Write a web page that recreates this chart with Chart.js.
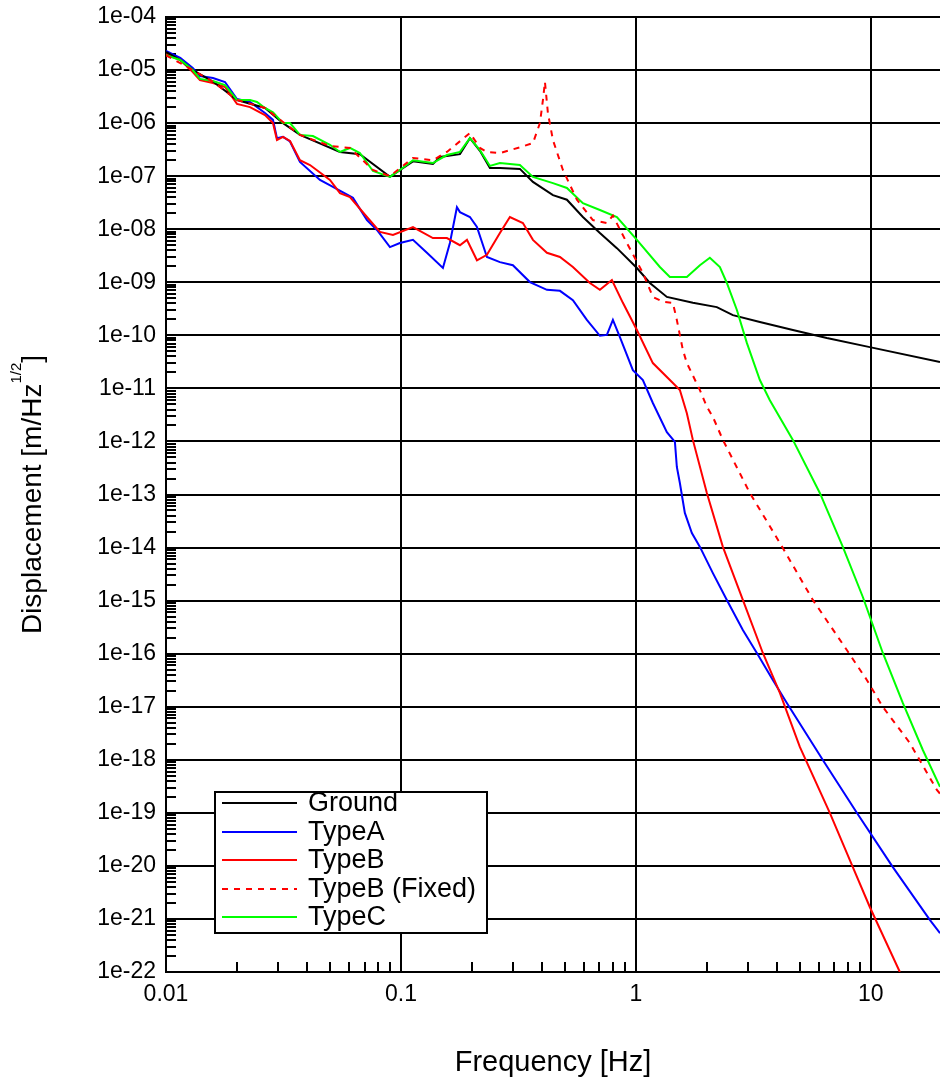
<!DOCTYPE html>
<html>
<head>
<meta charset="utf-8">
<script src="https://cdn.jsdelivr.net/npm/chart.js@4.4.1/dist/chart.umd.min.js"></script>
<style>
  html, body { margin: 0; padding: 0; background: #fff; }
  #wrap { width: 940px; height: 1081px; position: relative; }
</style>
</head>
<body>
<div id="wrap"><canvas id="psdChart"></canvas></div>
<script>
// axis ticks
const xTicks = [0.01, 0.1, 1, 10];
const xTickLabels = ['0.01', '0.1', '1', '10'];
const yTicks = [1e-22, 1e-21, 1e-20, 1e-19, 1e-18, 1e-17, 1e-16, 1e-15, 1e-14, 1e-13,
                1e-12, 1e-11, 1e-10, 1e-9, 1e-8, 1e-7, 1e-6, 1e-5, 1e-4];
const yTickLabels = ['1e-22', '1e-21', '1e-20', '1e-19', '1e-18', '1e-17', '1e-16', '1e-15', '1e-14', '1e-13',
                     '1e-12', '1e-11', '1e-10', '1e-09', '1e-08', '1e-07', '1e-06', '1e-05', '1e-04'];

// Ground
const groundF = [0.01, 0.0115, 0.013, 0.0159, 0.0201, 0.0264, 0.0315, 0.0372, 0.055, 0.0669, 0.0898,
                 0.1125, 0.1368, 0.1466, 0.1783, 0.1966, 0.2169, 0.2392, 0.2638, 0.3209, 0.3646, 0.4436,
                 0.5086, 0.5949, 0.7028, 0.8303, 1.01, 1.147, 1.355, 1.748, 2.211, 2.587, 3.371, 4.658,
                 6.498, 9.9, 19.7];
const groundV = [2.2e-5, 1.55e-5, 1.0e-5, 6.0e-6, 2.73e-6, 1.93e-6, 1.0e-6, 6.0e-7, 2.86e-7, 2.6e-7, 9.7e-8,
                 1.9e-7, 1.7e-7, 2.3e-7, 2.6e-7, 5.2e-7, 3.0e-7, 1.43e-7, 1.43e-7, 1.37e-7, 7.8e-8, 4.4e-8,
                 3.6e-8, 1.7e-8, 8.5e-9, 4.4e-9, 1.86e-9, 9.7e-10, 5.3e-10, 4.1e-10, 3.4e-10, 2.4e-10, 1.79e-10, 1.26e-10,
                 8.9e-11, 6.0e-11, 3.15e-11];

// TypeA
const typeAF = [0.01, 0.0115, 0.013, 0.01395, 0.01585, 0.01783, 0.02005, 0.02278, 0.02638, 0.02853, 0.02967,
                0.03147, 0.03371, 0.03717, 0.04522, 0.05135, 0.06248, 0.07167, 0.07904, 0.08978, 0.099,
                0.1125, 0.129, 0.1509, 0.1616, 0.1731, 0.1783, 0.1966, 0.2106, 0.2323, 0.2638, 0.2996,
                0.3539, 0.4182, 0.4751, 0.5395, 0.6185, 0.7028, 0.7527, 0.7984, 0.8551, 0.971, 1.071,
                1.181, 1.355, 1.466, 1.494, 1.539, 1.616, 1.731, 1.873, 2.127, 2.439, 2.853, 3.273,
                3.828, 4.391, 6.248, 8.718, 12.41, 17.83, 19.7];
const typeAV = [2.3e-5, 1.69e-5, 1.09e-5, 7.7e-6, 7.1e-6, 5.96e-6, 2.85e-6, 2.5e-6, 1.55e-6, 1.15e-6, 5.2e-7,
                5.5e-7, 4.5e-7, 1.85e-7, 8.5e-8, 6.3e-8, 3.9e-8, 1.49e-8, 9.7e-9, 4.6e-9, 5.5e-9,
                6.3e-9, 3.6e-9, 1.86e-9, 5.5e-9, 2.6e-8, 2.1e-8, 1.7e-8, 1.1e-8, 3.0e-9, 2.4e-9, 2.1e-9,
                1.01e-9, 7.2e-10, 6.9e-10, 4.6e-10, 1.95e-10, 9.8e-11, 1.02e-10, 1.95e-10, 9.3e-11, 2.2e-11, 1.44e-11,
                5.3e-12, 1.5e-12, 9.8e-13, 3.3e-13, 1.65e-13, 4.5e-14, 1.88e-14, 1.03e-14, 3.3e-15, 1.03e-15, 2.8e-16, 1.03e-16,
                3.2e-17, 1.18e-17, 9.9e-19, 1.0e-19, 9.5e-21, 9.6e-22, 5.4e-22];

// TypeB
const typeBF = [0.01, 0.0115, 0.013, 0.01395, 0.01585, 0.01783, 0.02005, 0.02278, 0.02638, 0.02853, 0.02967,
                0.03147, 0.03371, 0.03717, 0.04101, 0.04987, 0.05501, 0.06067, 0.07167, 0.0814, 0.09247,
                0.1125, 0.1368, 0.1569, 0.1783, 0.191, 0.2106, 0.2323, 0.2638, 0.2909, 0.3304, 0.3646,
                0.4182, 0.4751, 0.5395, 0.6372, 0.7028, 0.7906, 0.8805, 1.01, 1.181, 1.437, 1.539,
                1.648, 1.748, 2.005, 2.346, 2.853, 3.471, 4.101, 4.987, 6.691, 8.383, 9.9, 13.29];
const typeBV = [2.0e-5, 1.55e-5, 9.2e-6, 6.5e-6, 5.7e-6, 4.8e-6, 2.3e-6, 2.0e-6, 1.42e-6, 1.0e-6, 4.8e-7,
                5.5e-7, 4.6e-7, 2.0e-7, 1.62e-7, 8.5e-8, 4.8e-8, 4.05e-8, 1.7e-8, 8.9e-9, 7.8e-9,
                1.1e-8, 6.8e-9, 6.8e-9, 5.0e-9, 6.3e-9, 2.6e-9, 3.3e-9, 8.5e-9, 1.7e-8, 1.31e-8, 6.3e-9,
                3.6e-9, 3.0e-9, 1.94e-9, 9.7e-10, 7.2e-10, 1.1e-9, 4.1e-10, 1.26e-10, 3.0e-11, 1.26e-11, 9.3e-12,
                3.4e-12, 1.07e-12, 1.07e-13, 1.03e-14, 1.03e-15, 1.03e-16, 1.82e-17, 1.75e-18, 1.0e-19, 9.5e-21, 1.68e-21, 1.0e-22];

// TypeB (Fixed)
const typeBFixF = [0.01, 0.013, 0.01585, 0.02005, 0.02638, 0.03147, 0.03717, 0.04987, 0.06067, 0.07601, 0.08978,
                   0.1125, 0.1368, 0.1569, 0.1966, 0.2169, 0.2323, 0.2638, 0.3209, 0.3646, 0.3905, 0.4022,
                   0.4101, 0.4222, 0.4436, 0.4891, 0.561, 0.6561, 0.7527, 0.7984, 0.9155, 1.071, 1.181,
                   1.303, 1.437, 1.494, 1.585, 1.648, 1.873, 2.005, 2.127, 2.346, 3.055, 4.101, 5.665,
                   7.904, 9.617, 11.25, 14.66, 19.1, 19.7];
const typeBFixV = [1.9e-5, 1.0e-5, 6.0e-6, 2.73e-6, 1.93e-6, 1.05e-6, 6.0e-7, 3.7e-7, 3.4e-7, 1.31e-7, 1.0e-7,
                   2.2e-7, 2.0e-7, 2.86e-7, 6.5e-7, 3.4e-7, 2.86e-7, 2.73e-7, 3.5e-7, 4.2e-7, 1.0e-6, 2.73e-6,
                   6.0e-6, 1.55e-6, 4.8e-7, 1.31e-7, 3.6e-8, 1.49e-8, 1.31e-8, 1.8e-8, 5.5e-9, 1.5e-9, 5.3e-10,
                   4.3e-10, 4.1e-10, 1.95e-10, 5.3e-11, 3.0e-11, 9.3e-12, 4.5e-12, 2.9e-12, 1.07e-12, 1.07e-13, 1.22e-14, 1.03e-15,
                   1.17e-16, 3.2e-17, 9.9e-18, 2.07e-18, 2.7e-19, 2.3e-19];

// TypeC
const typeCF = [0.01, 0.0115, 0.013, 0.01395, 0.01585, 0.01783, 0.02005, 0.02278, 0.02439, 0.02638, 0.02853,
                0.03147, 0.03371, 0.03717, 0.04222, 0.04987, 0.05501, 0.06067, 0.0669, 0.07601, 0.08978,
                0.099, 0.1125, 0.1368, 0.1569, 0.1783, 0.1966, 0.2169, 0.2392, 0.2638, 0.3209, 0.3646,
                0.4436, 0.5086, 0.5949, 0.7028, 0.8303, 1.01, 1.265, 1.395, 1.648, 1.873, 2.065,
                2.278, 2.439, 2.691, 2.967, 3.371, 3.717, 4.658, 6.067, 7.601, 9.247, 11.25, 13.68,
                16.65, 19.7];
const typeCV = [1.9e-5, 1.55e-5, 1.0e-5, 6.8e-6, 6.2e-6, 5.2e-6, 2.73e-6, 2.73e-6, 2.5e-6, 1.93e-6, 1.6e-6,
                1.0e-6, 1.0e-6, 6.0e-7, 5.7e-7, 3.9e-7, 2.86e-7, 3.4e-7, 2.73e-7, 1.25e-7, 9.7e-8,
                1.31e-7, 2.0e-7, 1.77e-7, 2.5e-7, 2.86e-7, 5.2e-7, 3.1e-7, 1.56e-7, 1.77e-7, 1.62e-7, 9.7e-8,
                7.4e-8, 6.0e-8, 3.1e-8, 2.3e-8, 1.7e-8, 6.3e-9, 1.94e-9, 1.26e-9, 1.26e-9, 2.1e-9, 2.9e-9,
                1.94e-9, 9.7e-10, 3.0e-10, 7.2e-11, 1.44e-11, 6.0e-12, 1.07e-12, 1.07e-13, 1.03e-14, 1.17e-15, 1.03e-16, 1.18e-17,
                1.53e-18, 3.1e-19];

const FONT = '"Liberation Sans", Arial, sans-serif';

function toPoints(freqs, vals) {
    return freqs.map((f, i) => ({ x: f, y: vals[i] }));
}

// small inside ticks at 2..9 of every decade
const minorTicks = {
    id: 'minorTicks',
    beforeDatasetsDraw(chart) {
        const { ctx, chartArea: a, scales: { x, y } } = chart;
        ctx.save();
        ctx.strokeStyle = '#000';
        ctx.lineWidth = 2;
        ctx.beginPath();
        for (let e = -2; e <= 1; e++) {
            for (let k = 2; k <= 9; k++) {
                const v = k * Math.pow(10, e);
                if (v >= x.max) continue;
                const px = Math.round(x.getPixelForValue(v));
                ctx.moveTo(px, a.bottom);
                ctx.lineTo(px, a.bottom - 10);
            }
        }
        for (let e = -22; e < -4; e++) {
            for (let k = 2; k <= 9; k++) {
                const py = Math.round(y.getPixelForValue(k * Math.pow(10, e)));
                ctx.moveTo(a.left, py);
                ctx.lineTo(a.left + 10, py);
            }
        }
        ctx.stroke();
        ctx.restore();
    }
};

// boxed legend in the lower left of the plot
const boxLegend = {
    id: 'boxLegend',
    afterDraw(chart) {
        const ctx = chart.ctx;
        const box = { left: 215, top: 792, right: 487, bottom: 933 };
        ctx.save();
        ctx.fillStyle = '#fff';
        ctx.fillRect(box.left, box.top, box.right - box.left, box.bottom - box.top);
        ctx.strokeStyle = '#000';
        ctx.lineWidth = 2;
        ctx.strokeRect(box.left, box.top, box.right - box.left, box.bottom - box.top);
        ctx.font = '27px ' + FONT;
        ctx.textBaseline = 'middle';
        ctx.textAlign = 'left';
        chart.data.datasets.forEach((ds, i) => {
            const ly = 803 + i * 28.5;
            ctx.beginPath();
            ctx.setLineDash(ds.borderDash || []);
            ctx.strokeStyle = ds.borderColor;
            ctx.lineWidth = 2;
            ctx.moveTo(222, Math.round(ly));
            ctx.lineTo(297, Math.round(ly));
            ctx.stroke();
            ctx.setLineDash([]);
            ctx.fillStyle = '#000';
            ctx.fillText(ds.label, 308, ly + 1);
        });
        ctx.restore();
    }
};

// rotated y title with superscript 1/2
const yTitle = {
    id: 'yTitle',
    afterDraw(chart) {
        const ctx = chart.ctx;
        const a = chart.chartArea;
        const big = '28px ' + FONT;
        const small = '15px ' + FONT;
        const parts = [['Displacement [m/Hz', big, 0], ['1/2', small, -20], [']', big, 0]];
        ctx.save();
        let total = 0;
        parts.forEach(p => { ctx.font = p[1]; p.push(ctx.measureText(p[0]).width); total += p[3]; });
        ctx.translate(41, (a.top + a.bottom) / 2);
        ctx.rotate(-Math.PI / 2);
        ctx.fillStyle = '#000';
        ctx.textBaseline = 'alphabetic';
        ctx.textAlign = 'left';
        let x = -total / 2;
        parts.forEach(p => { ctx.font = p[1]; ctx.fillText(p[0], x, p[2]); x += p[3]; });
        ctx.restore();
    }
};

new Chart(document.getElementById('psdChart').getContext('2d'), {
    type: 'line',
    data: {
        datasets: [
            { label: 'Ground', data: toPoints(groundF, groundV), borderColor: '#000000', order: 2 },
            { label: 'TypeA', data: toPoints(typeAF, typeAV), borderColor: '#0000ff', order: 4 },
            { label: 'TypeB', data: toPoints(typeBF, typeBV), borderColor: '#ff0000', order: 3 },
            { label: 'TypeB (Fixed)', data: toPoints(typeBFixF, typeBFixV), borderColor: '#ff0000', borderDash: [6, 6], order: 0 },
            { label: 'TypeC', data: toPoints(typeCF, typeCV), borderColor: '#00ff00', order: 1 }
        ]
    },
    options: {
        responsive: true,
        maintainAspectRatio: false,
        animation: false,
        layout: { padding: { top: 17, right: 0, left: 0, bottom: 0 } },
        elements: {
            line: { borderWidth: 2, tension: 0, fill: false },
            point: { radius: 0, hoverRadius: 0 }
        },
        plugins: {
            legend: { display: false },
            tooltip: { enabled: false }
        },
        scales: {
            x: {
                type: 'logarithmic',
                min: 0.01,
                max: 19.7,
                afterBuildTicks: s => { s.ticks = xTicks.map(v => ({ value: v })); },
                afterFit: s => { s.height = 109; },
                ticks: {
                    autoSkip: false,
                    maxRotation: 0,
                    padding: 3,
                    color: '#000',
                    font: { family: FONT, size: 23 },
                    callback: (v, i) => xTickLabels[i]
                },
                grid: { color: '#000', lineWidth: 2, drawTicks: true, tickLength: 6, tickColor: 'rgba(0,0,0,0)' },
                border: { color: '#000', width: 2 },
                title: {
                    display: true,
                    text: 'Frequency [Hz]',
                    color: '#000',
                    font: { family: FONT, size: 29 },
                    padding: { top: 0, bottom: 1 }
                }
            },
            y: {
                type: 'logarithmic',
                min: 1e-22,
                max: 1e-4,
                afterBuildTicks: s => { s.ticks = yTicks.map(v => ({ value: v })); },
                afterFit: s => { s.width = 166; },
                ticks: {
                    autoSkip: false,
                    padding: 3,
                    color: '#000',
                    font: { family: FONT, size: 23 },
                    callback: (v, i) => yTickLabels[i]
                },
                grid: { color: '#000', lineWidth: 2, drawTicks: true, tickLength: 7, tickColor: 'rgba(0,0,0,0)' },
                border: { color: '#000', width: 2 }
            }
        }
    },
    plugins: [minorTicks, boxLegend, yTitle]
});
</script>
</body>
</html>
